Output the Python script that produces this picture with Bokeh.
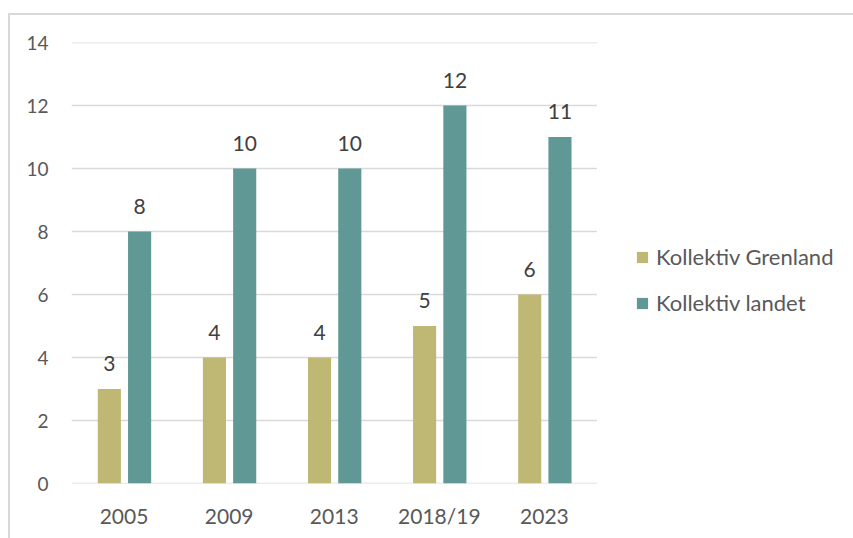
from bokeh.plotting import figure
from bokeh.models import ColumnDataSource, Legend, LegendItem, Range1d, FixedTicker
from bokeh.core.properties import value
from bokeh.embed import file_html
from bokeh.resources import INLINE

years = ["2005", "2009", "2013", "2018/19", "2023"]
grenland = [3, 4, 4, 5, 6]
landet = [8, 10, 10, 12, 11]
y_ticks = [0, 2, 4, 6, 8, 10, 12, 14]
series_names = ["Kollektiv Grenland", "Kollektiv landet"]

FONT = "Lato"
C_GREN = "#BFB774"
C_LAND = "#5F9895"
OFF_G, OFF_L, BW = -0.14, 0.148, 0.22

n = len(years)
xc = [i + 0.5 for i in range(n)]
src = ColumnDataSource(dict(xg=[x + OFF_G for x in xc], xl=[x + OFF_L for x in xc],
                            gren=grenland, land=landet,
                            gren_lbl=[str(v) for v in grenland],
                            land_lbl=[str(v) for v in landet]))

p = figure(x_range=Range1d(0, 7.46), y_range=Range1d(0, 14),
           width=845, height=525, output_backend="svg", toolbar_location=None,
           min_border_left=61, min_border_right=0, min_border_top=27, min_border_bottom=57)
p.margin = (13, 0, 0, 8)
p.styles = {"border-left": "2px solid #d9d9d9", "border-top": "2px solid #d9d9d9"}
p.outline_line_color = None
p.background_fill_color = "white"
p.border_fill_color = "white"
p.xgrid.grid_line_color = None
p.ygrid.grid_line_color = None

# horizontal gridlines only across the category area
p.segment(x0=[0] * len(y_ticks), x1=[n] * len(y_ticks), y0=y_ticks, y1=y_ticks,
          line_color="#d9d9d9", line_width=1.5)

r1 = p.vbar(x="xg", top="gren", width=BW, source=src, color=C_GREN, line_color=None)
r2 = p.vbar(x="xl", top="land", width=BW, source=src, color=C_LAND, line_color=None)

for xcol, col in (("xg", "gren"), ("xl", "land")):
    p.text(x=xcol, y=col, text=col + "_lbl", source=src,
           text_align="center", text_baseline="bottom", y_offset=-18,
           text_font=value(FONT), text_font_size="21px", text_color="#404040")

p.yaxis.ticker = FixedTicker(ticks=y_ticks)
p.xaxis.ticker = FixedTicker(ticks=xc)
p.xaxis.major_label_overrides = {x: y for x, y in zip(xc, years)}

for ax in (p.xaxis, p.yaxis):
    ax.axis_line_color = None
    ax.major_tick_line_color = None
    ax.minor_tick_line_color = None
    ax.major_label_text_font = FONT
    ax.major_label_text_color = "#595959"
p.yaxis.major_label_text_font_size = "19px"
p.xaxis.major_label_text_font_size = "21px"
p.yaxis.major_label_standoff = 17
p.xaxis.major_label_standoff = 13

legend = Legend(items=[LegendItem(label=series_names[0], renderers=[r1]),
                       LegendItem(label=series_names[1], renderers=[r2])],
                location=(564, 167), orientation="vertical",
                glyph_width=14, glyph_height=14, label_standoff=7,
                label_height=22, spacing=19, padding=0, margin=0,
                border_line_color=None, background_fill_alpha=0,
                label_text_font=FONT, label_text_font_size="22px",
                label_text_color="#595959")
p.add_layout(legend, "center")

open("out.html", "w").write(file_html(p, INLINE))
